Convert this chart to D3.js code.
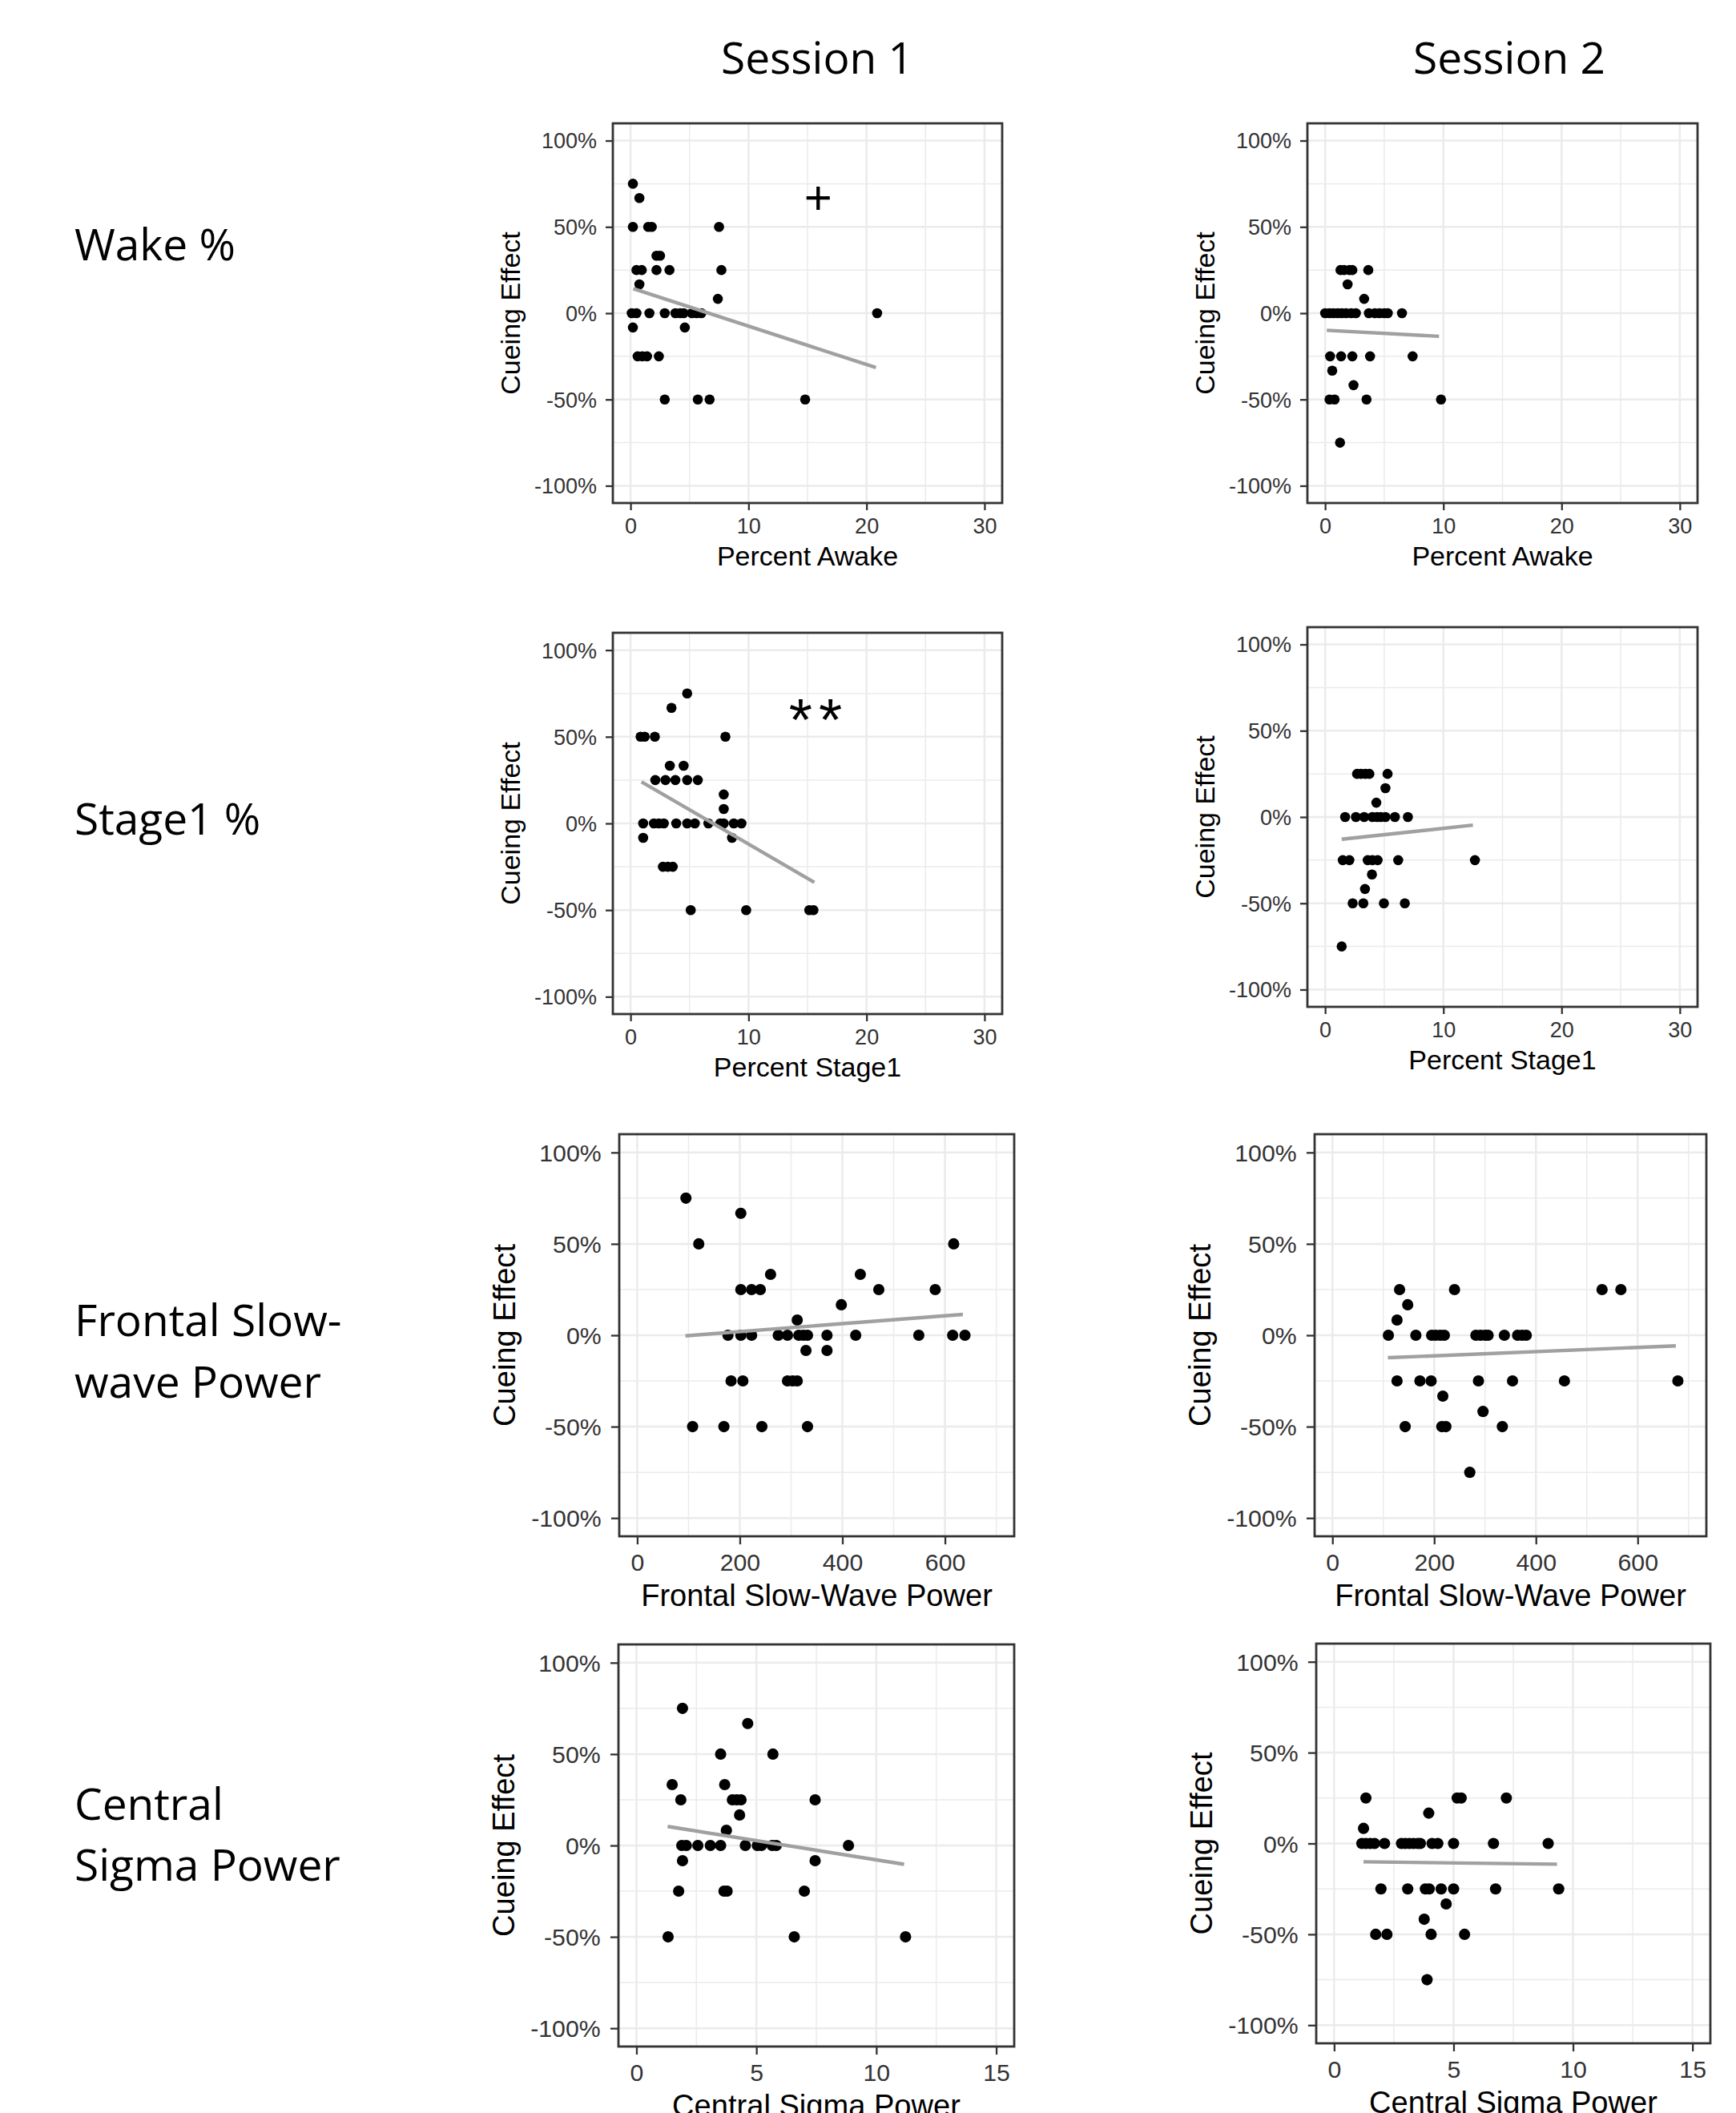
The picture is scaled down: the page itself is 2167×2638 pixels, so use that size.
<!DOCTYPE html>
<html><head><meta charset="utf-8">
<script src="https://cdn.jsdelivr.net/npm/d3@7"></script>
<style>body{margin:0;background:#fff}</style>
</head><body><svg id="c" width="2167" height="2638"></svg>
<script>
// ---------- labels ----------
const sessionLabels = ["Session 1", "Session 2"];
const rowLabels = [["Wake %"], ["Stage1 %"], ["Frontal Slow-", "wave Power"], ["Central", "Sigma Power"]];
const xTitles = ["Percent Awake", "Percent Stage1", "Frontal Slow-Wave Power", "Central Sigma Power"];
const yTitle = "Cueing Effect";
const xTicks = [[0, 10, 20, 30], [0, 10, 20, 30], [0, 200, 400, 600], [0, 5, 10, 15]];
const xMinor = [[5, 15, 25], [5, 15, 25], [100, 300, 500, 700], [2.5, 7.5, 12.5]];
const xDomains = [[-1.5, 31.5], [-1.5, 31.5], [-35, 735], [-0.75, 15.75]];
const yTicks = [-1, -0.5, 0, 0.5, 1];
const yTickLabels = ["-100%", "-50%", "0%", "50%", "100%"];
const yMinor = [-0.75, -0.25, 0.25, 0.75];
const yDomain = [-1.1, 1.1];

// ---------- data ----------
const wakeS1X = [0.2,0.75,0.2,1.5,1.8,7.5, 2.2,2.5, 0.5,0.95,2.2,3.3,7.7, 0.75, 7.4, 0.1,0.5,1.6,2.9,3.8,4.2,4.5,5.2,5.6,6.0,20.9, 0.2,4.6, 0.6,1.0,1.4,2.4, 2.9,5.7,6.7,14.8];
const wakeS1Y = [0.75,0.667,0.5,0.5,0.5,0.5, 0.333,0.333, 0.25,0.25,0.25,0.25,0.25, 0.167, 0.083, 0,0,0,0,0,0,0,0,0,0,0, -0.083,-0.083, -0.25,-0.25,-0.25,-0.25, -0.5,-0.5,-0.5,-0.5];
const wakeS1Fit = [0.23, 0.142, 20.8, -0.315];

const wakeS2X = [1.3,1.6,2.05,2.3,3.65, 1.9, 3.3, 0,0.37,0.7,1.07,1.4,1.77,2.2,2.6,3.7,4.2,4.6,5.0,5.3,6.5, 0.42,1.35,2.3,3.8,7.4, 0.6, 2.4, 0.37,0.8,3.5,9.8, 1.26];
const wakeS2Y = [0.25,0.25,0.25,0.25,0.25, 0.167, 0.083, 0,0,0,0,0,0,0,0,0,0,0,0,0,0, -0.25,-0.25,-0.25,-0.25,-0.25, -0.333, -0.417, -0.5,-0.5,-0.5,-0.5, -0.75];
const wakeS2Fit = [0.14, -0.099, 9.63, -0.134];

const stage1S1X = [4.8, 3.47, 0.85,1.2,2.06,8.04, 3.33,4.5, 2.1,2.96,3.8,4.8,5.7, 7.9, 7.9, 1.07,1.98,2.4,2.82,3.87,4.8,5.45,6.6,7.6,7.9,8.75,9.4, 1.07,8.6, 2.74,3.16,3.58, 5.1,9.8,15.15,15.5];
const stage1S1Y = [0.75, 0.667, 0.5,0.5,0.5,0.5, 0.333,0.333, 0.25,0.25,0.25,0.25,0.25, 0.167, 0.083, 0,0,0,0,0,0,0,0,0,0,0,0, -0.083,-0.083, -0.25,-0.25,-0.25, -0.5,-0.5,-0.5,-0.5];
const stage1S1Fit = [0.93, 0.24, 15.58, -0.34];

const stage1S2X = [2.7,3.03,3.4,3.74,5.28, 5.1, 4.33, 1.69,2.6,3.3,4.0,4.4,4.7,5.1,5.9,7.0, 1.49,2.05,3.6,4.0,4.44,6.18,12.67, 3.96, 3.37, 2.33,3.23,4.97,6.74, 1.4];
const stage1S2Y = [0.25,0.25,0.25,0.25,0.25, 0.167, 0.083, 0,0,0,0,0,0,0,0,0, -0.25,-0.25,-0.25,-0.25,-0.25,-0.25,-0.25, -0.333, -0.417, -0.5,-0.5,-0.5,-0.5, -0.75];
const stage1S2Fit = [1.4, -0.129, 12.5, -0.047];

const frontalS1X = [95, 202, 120, 617, 260, 435, 202,223,240,471,581, 398, 312, 177,202,223,275,293,315,324,332,370,426,549,615,639, 329,370, 183,206,293,303,312, 108,169,243,332];
const frontalS1Y = [0.75, 0.667, 0.5, 0.5, 0.333, 0.333, 0.25,0.25,0.25,0.25,0.25, 0.167, 0.083, 0,0,0,0,0,0,0,0,0,0,0,0,0, -0.083,-0.083, -0.25,-0.25,-0.25,-0.25,-0.25, -0.5,-0.5,-0.5,-0.5];
const frontalS1Fit = [94, -0.003, 635, 0.114];

const frontalS2X = [132,240,530,567, 148, 127, 110,164,195,203,212,220,282,291,300,306,338,364,373,381, 127,172,194,287,354,456,679, 217, 296, 143,215,223,334, 270];
const frontalS2Y = [0.25,0.25,0.25,0.25, 0.167, 0.083, 0,0,0,0,0,0,0,0,0,0,0,0,0,0, -0.25,-0.25,-0.25,-0.25,-0.25,-0.25,-0.25, -0.333, -0.417, -0.5,-0.5,-0.5,-0.5, -0.75];
const frontalS2Fit = [109, -0.123, 675, -0.058];

const sigmaS1X = [1.92, 4.64, 3.51,5.69, 1.49,3.68, 1.85,4.0,4.18,4.36,7.45, 4.3, 3.75, 1.89,2.08,2.56,3.08,3.51,4.54,5.04,5.21,5.66,5.83,8.84, 1.92,7.45, 1.76,3.65,3.78,7.0, 1.32,6.58,11.22];
const sigmaS1Y = [0.75, 0.667, 0.5,0.5, 0.333,0.333, 0.25,0.25,0.25,0.25,0.25, 0.167, 0.083, 0,0,0,0,0,0,0,0,0,0,0, -0.083,-0.083, -0.25,-0.25,-0.25,-0.25, -0.5,-0.5,-0.5];
const sigmaS1Fit = [1.3, 0.104, 11.16, -0.103];

const sigmaS2X = [1.33,5.15,5.32,7.21, 3.96, 1.23, 1.16,1.33,1.51,1.69,2.11,2.82,2.98,3.15,3.32,3.5,3.61,4.1,4.34,5.0,6.67,8.96, 1.96,3.08,3.82,3.98,4.48,5.0,6.76,9.4, 4.69, 3.77, 1.74,2.21,4.06,5.46, 3.89];
const sigmaS2Y = [0.25,0.25,0.25,0.25, 0.167, 0.083, 0,0,0,0,0,0,0,0,0,0,0,0,0,0,0,0, -0.25,-0.25,-0.25,-0.25,-0.25,-0.25,-0.25,-0.25, -0.333, -0.417, -0.5,-0.5,-0.5,-0.5, -0.75];
const sigmaS2Fit = [1.23, -0.101, 9.33, -0.114];

// annotations (data coords) : [panelIndex, x, y, text]
const annotations = [[0, 15.9, 0.673, "+"], [2, 15.95, 0.684, "**"]];

// ---------- layout ----------
const panels = [
  {row:0, xs:wakeS1X, ys:wakeS1Y, fit:wakeS1Fit, box:[765,154,486,474], k:1},
  {row:0, xs:wakeS2X, ys:wakeS2Y, fit:wakeS2Fit, box:[1632,154,487,474], k:1},
  {row:1, xs:stage1S1X, ys:stage1S1Y, fit:stage1S1Fit, box:[765,790,486,476], k:1},
  {row:1, xs:stage1S2X, ys:stage1S2Y, fit:stage1S2Fit, box:[1632,783,487,474], k:1},
  {row:2, xs:frontalS1X, ys:frontalS1Y, fit:frontalS1Fit, box:[773,1416,493,502], k:1.12},
  {row:2, xs:frontalS2X, ys:frontalS2Y, fit:frontalS2Fit, box:[1641,1416,489,502], k:1.12},
  {row:3, xs:sigmaS1X, ys:sigmaS1Y, fit:sigmaS1Fit, box:[772,2053,494,502], k:1.12},
  {row:3, xs:sigmaS2X, ys:sigmaS2Y, fit:sigmaS2Fit, box:[1643,2052,492,499], k:1.12}
];

const svg = d3.select("#c");
svg.append("rect").attr("width", 2167).attr("height", 2638).attr("fill", "#fff");

const headFont = "'Open Sans', 'Noto Sans', sans-serif";
const plotFont = "'Liberation Sans', Arial, sans-serif";

// column headings
const sessionX = [1020, 1884];
sessionLabels.forEach((s, i) => {
  svg.append("text").attr("x", sessionX[i]).attr("y", 92).attr("text-anchor", "middle")
    .attr("font-family", headFont).attr("font-size", 55).attr("fill", "#000").text(s);
});
// row labels
const rowBaselines = [[325], [1042], [1668, 1745], [2272, 2348]];
rowLabels.forEach((lines, r) => {
  lines.forEach((t, j) => {
    svg.append("text").attr("x", 93).attr("y", rowBaselines[r][j])
      .attr("font-family", headFont).attr("font-size", 55).attr("fill", "#000").text(t);
  });
});

const grid = "#ebebeb";
const panelScales = [];
panels.forEach((p, i) => {
  const [L, T, W, H] = p.box;
  const k = p.k;
  const x = d3.scaleLinear().domain(xDomains[p.row]).range([L, L + W]);
  const y = d3.scaleLinear().domain(yDomain).range([T + H, T]);
  panelScales.push({x, y, k});
  const g = svg.append("g");
  // minor grid
  g.selectAll(null).data(xMinor[p.row]).join("line")
    .attr("x1", d => x(d)).attr("x2", d => x(d)).attr("y1", T).attr("y2", T + H)
    .attr("stroke", grid).attr("stroke-width", 1.5);
  g.selectAll(null).data(yMinor).join("line")
    .attr("y1", d => y(d)).attr("y2", d => y(d)).attr("x1", L).attr("x2", L + W)
    .attr("stroke", grid).attr("stroke-width", 1.5);
  // major grid
  g.selectAll(null).data(xTicks[p.row]).join("line")
    .attr("x1", d => x(d)).attr("x2", d => x(d)).attr("y1", T).attr("y2", T + H)
    .attr("stroke", grid).attr("stroke-width", 2.5);
  g.selectAll(null).data(yTicks).join("line")
    .attr("y1", d => y(d)).attr("y2", d => y(d)).attr("x1", L).attr("x2", L + W)
    .attr("stroke", grid).attr("stroke-width", 2.5);

  // points
  g.selectAll(null).data(p.xs.map((v, j) => [v, p.ys[j]])).join("circle")
    .attr("cx", d => x(d[0])).attr("cy", d => y(d[1])).attr("r", 6.3 * k).attr("fill", "#000");

  // fit line
  g.append("line")
    .attr("x1", x(p.fit[0])).attr("y1", y(p.fit[1]))
    .attr("x2", x(p.fit[2])).attr("y2", y(p.fit[3]))
    .attr("stroke", "#a0a0a0").attr("stroke-width", 4.4);

  // border
  g.append("rect").attr("x", L).attr("y", T).attr("width", W).attr("height", H)
    .attr("fill", "none").attr("stroke", "#333").attr("stroke-width", 2.8);

  // x axis
  const xa = g.append("g").attr("transform", `translate(0,${T + H})`)
    .call(d3.axisBottom(x).tickValues(xTicks[p.row]).tickSize(9 * k).tickFormat(d3.format("d")));
  xa.select(".domain").remove();
  xa.selectAll(".tick line").attr("stroke", "#333").attr("stroke-width", 2.3);
  xa.selectAll(".tick text").attr("y", 29 * k).attr("dy", "0.35em")
    .attr("font-family", plotFont).attr("font-size", 27 * k).attr("fill", "#333");

  // y axis
  const ya = g.append("g").attr("transform", `translate(${L},0)`)
    .call(d3.axisLeft(y).tickValues(yTicks).tickSize(9 * k).tickFormat((d, j) => yTickLabels[j]));
  ya.select(".domain").remove();
  ya.selectAll(".tick line").attr("stroke", "#333").attr("stroke-width", 2.3);
  ya.selectAll(".tick text").attr("x", -20 * k).attr("dy", "0.35em")
    .attr("font-family", plotFont).attr("font-size", 27 * k).attr("fill", "#333");

  // axis titles
  g.append("text").attr("x", L + W / 2).attr("y", T + H + 66 * k).attr("dy", "0.35em")
    .attr("text-anchor", "middle").attr("font-family", plotFont).attr("font-size", 34 * k)
    .attr("fill", "#000").text(xTitles[p.row]);
  const yc = T + H / 2, xc = L - 128 * k;
  g.append("text").attr("transform", `translate(${xc},${yc}) rotate(-90)`).attr("dy", "0.35em")
    .attr("text-anchor", "middle").attr("font-family", plotFont).attr("font-size", 34 * k)
    .attr("fill", "#000").text(yTitle);
});

// significance annotations
annotations.forEach(([pi, ax, ay, t]) => {
  const s = panelScales[pi];
  if (t === "+") {
    svg.append("text").attr("x", s.x(ax)).attr("y", s.y(ay)).attr("dy", "0.35em")
      .attr("text-anchor", "middle").attr("font-family", plotFont).attr("font-size", 60)
      .attr("fill", "#000").text(t);
  } else {
    svg.append("text").attr("x", s.x(ax)).attr("y", s.y(ay)).attr("dy", "0.58em")
      .attr("text-anchor", "middle").attr("font-family", plotFont).attr("font-size", 75)
      .attr("letter-spacing", 8).attr("fill", "#000").text(t);
  }
});
</script></body></html>
